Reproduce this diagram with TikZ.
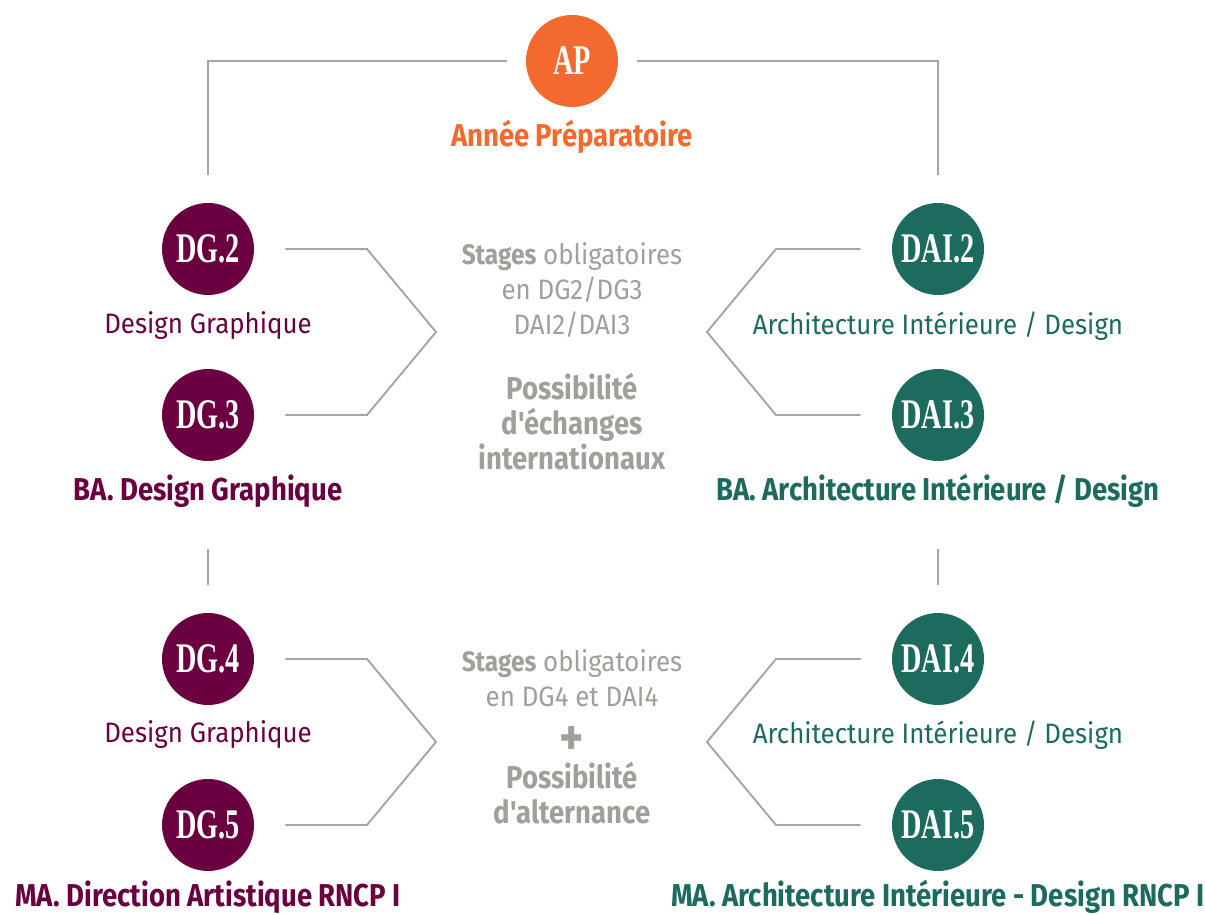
\documentclass[tikz,border=0pt]{standalone}
\usepackage{fontspec}
\setmainfont{Fira Sans}[FakeStretch=0.92]
\newfontfamily\condfont{Fira Sans}[FakeStretch=0.87]
\newfontfamily\stencilfont{Liberation Serif}[FakeStretch=0.67]
\definecolor{aporange}{RGB}{242,106,45}
\definecolor{dgwine}{RGB}{106,0,63}
\definecolor{daigreen}{RGB}{28,107,94}
\definecolor{notegray}{RGB}{160,159,153}
\definecolor{linkgray}{RGB}{166,166,162}

\begin{document}
\begin{tikzpicture}[x=0.02cm, y=-0.02cm,
    year/.style={circle, minimum size=1.84cm, inner sep=0pt, text=white,
      font=\stencilfont\bfseries\fontsize{24}{24}\selectfont},
    label/.style={font=\fontsize{16}{19.9}\selectfont},
    title/.style={font=\condfont\bfseries\fontsize{18}{20}\selectfont},
    note/.style={text=notegray, align=center, font=\fontsize{16}{19.9}\selectfont},
    link/.style={draw=linkgray, line width=1.1pt}]
    \useasboundingbox (0, 0) rectangle (1205, 915);

    \node[year, fill=aporange] (ap) at (572, 61) {AP};
    \node[title, text=aporange] (ap-t) at (572, 137) {Année Préparatoire};

    \node[year, fill=dgwine] (dg2) at (208, 249) {DG.2};
    \node[label, text=dgwine] (dg2-t) at (208, 326) {Design Graphique};
    \node[year, fill=dgwine] (dg3) at (208, 415) {DG.3};
    \node[title, text=dgwine] (dg3-t) at (208, 491) {BA. Design Graphique};
    \node[year, fill=dgwine] (dg4) at (208, 659) {DG.4};
    \node[label, text=dgwine] (dg4-t) at (208, 735) {Design Graphique};
    \node[year, fill=dgwine] (dg5) at (208, 825) {DG.5};
    \node[title, text=dgwine] (dg5-t) at (208, 897) {MA. Direction Artistique RNCP I};

    \node[year, fill=daigreen] (dai2) at (938, 249) {DAI.2};
    \node[label, text=daigreen] (dai2-t) at (938, 326) {Architecture Intérieure / Design};
    \node[year, fill=daigreen] (dai3) at (938, 415) {DAI.3};
    \node[title, text=daigreen] (dai3-t) at (938, 491) {BA. Architecture Intérieure / Design};
    \node[year, fill=daigreen] (dai4) at (938, 659) {DAI.4};
    \node[label, text=daigreen] (dai4-t) at (938, 735) {Architecture Intérieure / Design};
    \node[year, fill=daigreen] (dai5) at (938, 825) {DAI.5};
    \node[title, text=daigreen] (dai5-t) at (938, 897) {MA. Architecture Intérieure - Design RNCP I};

    \node[note] (stage-ba) at (572, 290) {{\condfont\bfseries Stages} obligatoires\\en DG2/DG3\\DAI2/DAI3};
    \node[note, font=\condfont\bfseries\fontsize{18}{19.9}\selectfont] (echange) at (572, 422) {Possibilité\\d'échanges\\internationaux};
    \node[note] (stage-ma) at (572, 678) {{\condfont\bfseries Stages} obligatoires\\en DG4 et DAI4};
    \node[note, font=\condfont\bfseries\fontsize{30}{30}\selectfont] (plus) at (572, 741) {+};
    \node[note, font=\condfont\bfseries\fontsize{18}{19.9}\selectfont] (altern) at (572, 793) {Possibilité\\d'alternance};

    \coordinate (ba-l) at (436, 332);
    \coordinate (ba-r) at (707, 332);
    \coordinate (ma-l) at (436, 742);
    \coordinate (ma-r) at (707, 742);

    \draw[link, shorten <=0.38cm, shorten >=0.56cm] (ap.west) -| (dg2.north);
    \draw[link, shorten <=0.38cm, shorten >=0.56cm] (ap.east) -| (dai2.north);

    \draw[link, shorten <=0.62cm, shorten >=0.62cm] (dg2.east) -- (367, 249) -- (ba-l) -- (367, 415) -- (dg3.east);
    \draw[link, shorten <=0.62cm, shorten >=0.62cm] (dai2.west) -- (776, 249) -- (ba-r) -- (776, 415) -- (dai3.west);
    \draw[link, shorten <=0.62cm, shorten >=0.62cm] (dg4.east) -- (367, 659) -- (ma-l) -- (367, 825) -- (dg5.east);
    \draw[link, shorten <=0.62cm, shorten >=0.62cm] (dai4.west) -- (776, 659) -- (ma-r) -- (776, 825) -- (dai5.west);

    \draw[link, shorten <=0.7cm, shorten >=0.56cm] (dg3-t.south) -- (dg4.north);
    \draw[link, shorten <=0.7cm, shorten >=0.56cm] (dai3-t.south) -- (dai4.north);
  \end{tikzpicture}
\end{document}
